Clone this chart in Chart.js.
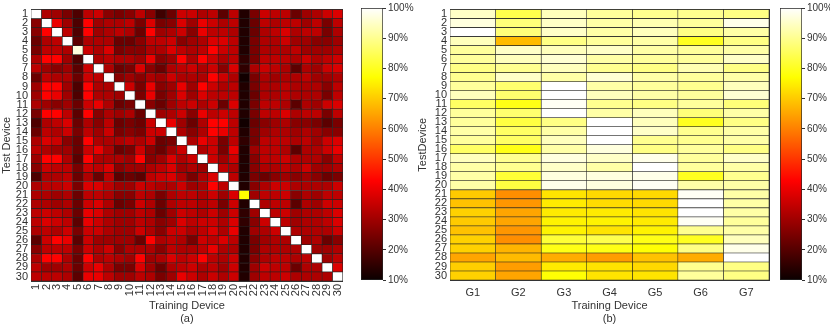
<!DOCTYPE html>
<html>
<head>
<meta charset="utf-8">
<script src="https://cdn.jsdelivr.net/npm/chart.js@4.4.0/dist/chart.umd.min.js"></script>
<style>
  body { margin: 0; background: #fff; overflow: hidden; }
  #wrap { position: relative; width: 830px; height: 327px; }
  canvas { position: absolute; top: 0; }
</style>
</head>
<body>
<div id="wrap">
  <canvas id="heatA" width="354" height="327" style="left:0px"></canvas>
  <canvas id="barA" width="60" height="327" style="left:355px"></canvas>
  <canvas id="heatB" width="359" height="327" style="left:415px"></canvas>
  <canvas id="barB" width="56" height="327" style="left:774px"></canvas>
</div>
<script>
// panel (a): training device (columns) vs test device (rows), accuracy in %
const trainA = ['1','2','3','4','5','6','7','8','9','10','11','12','13','14','15',
  '16','17','18','19','20','21','22','23','24','25','26','27','28','29','30'];
const testA = ['1','2','3','4','5','6','7','8','9','10','11','12','13','14','15',
  '16','17','18','19','20','21','22','23','24','25','26','27','28','29','30'];
const accA = [
  [100,32,30,25,19,34,36,27,25,27,34,27,17,23,36,36,32,34,21,34,13,25,36,34,34,23,30,32,36,38],
  [27,100,40,30,19,43,30,32,32,34,25,38,25,27,38,30,40,36,32,34,13,23,34,32,34,34,30,34,25,34],
  [27,43,100,34,19,43,30,32,34,32,23,43,30,32,36,27,40,34,34,32,13,23,32,34,38,32,34,34,25,32],
  [23,32,34,100,21,32,32,32,23,23,27,34,34,36,27,30,32,38,38,34,13,25,32,32,36,30,30,27,27,30],
  [25,34,34,32,97,36,32,38,25,27,27,32,32,38,34,32,34,43,36,34,13,25,32,32,32,34,30,30,30,32],
  [32,43,43,30,19,100,32,34,32,32,30,40,27,30,43,32,43,36,32,34,15,25,34,34,34,32,36,32,34,36],
  [34,30,27,30,21,36,100,32,23,25,38,27,23,32,34,36,32,36,27,38,15,32,36,34,32,21,32,30,36,38],
  [23,34,32,32,23,36,34,100,27,30,27,32,30,36,32,32,32,43,36,32,11,25,32,30,32,32,34,30,30,32],
  [30,43,43,30,19,43,32,32,100,36,25,40,27,30,40,30,43,36,32,34,13,25,32,32,34,32,32,32,27,34],
  [30,43,40,30,19,43,32,32,30,100,25,40,25,30,38,30,38,34,34,34,13,23,32,32,34,32,32,32,25,34],
  [32,30,27,30,23,36,40,32,23,25,100,27,23,30,34,36,32,36,23,38,13,25,34,34,32,21,32,30,36,38],
  [25,43,43,34,21,43,27,32,30,32,23,100,30,32,36,27,40,34,36,34,13,25,34,34,38,32,34,34,25,34],
  [19,32,34,38,23,32,27,34,23,25,23,36,100,40,30,23,32,43,43,34,11,23,27,30,32,27,27,25,21,25],
  [23,34,32,36,25,34,30,36,25,27,25,36,36,100,32,27,32,43,40,34,13,25,30,32,32,30,32,30,27,27],
  [32,38,36,27,23,43,32,32,32,34,32,36,23,25,100,32,40,36,25,34,15,25,34,34,34,32,34,30,36,38],
  [34,32,30,30,23,36,40,32,23,25,36,27,23,30,36,100,32,36,25,40,13,30,34,34,32,21,32,32,36,40],
  [30,43,43,32,21,43,32,32,32,30,43,27,30,38,32,36,100,36,30,36,13,27,34,34,36,32,32,32,27,34],
  [27,36,34,34,25,36,34,38,27,30,30,32,34,38,30,32,30,100,34,32,13,27,32,32,34,32,36,30,30,32],
  [19,32,32,34,23,32,23,34,21,23,21,34,36,38,32,25,32,38,100,34,13,25,23,27,30,27,30,27,23,25],
  [32,34,34,36,25,38,38,34,30,30,36,34,32,32,36,30,32,43,34,100,13,27,32,36,36,32,32,32,32,36],
  [32,32,30,32,23,34,34,32,27,27,34,32,25,32,34,34,32,36,30,38,77,30,34,34,36,27,32,30,34,34],
  [32,32,30,32,23,36,38,32,23,25,36,32,23,32,34,34,32,34,25,36,13,100,32,34,34,21,32,30,36,36],
  [34,36,34,32,23,40,38,32,30,30,34,32,23,30,36,34,32,36,30,36,15,30,100,34,36,30,32,32,34,38],
  [34,38,36,34,21,40,36,32,30,30,34,32,27,30,38,34,36,36,32,38,15,27,36,100,34,30,32,32,34,38],
  [32,34,32,36,25,36,36,32,30,30,36,32,27,36,36,32,34,38,32,40,13,30,32,36,100,32,32,32,32,36],
  [21,36,43,40,21,36,30,30,30,30,23,43,32,34,32,25,36,34,38,34,13,25,30,32,32,100,30,32,23,27],
  [27,34,34,34,25,36,32,36,27,32,32,32,27,34,32,32,34,40,32,32,13,25,32,32,32,32,100,30,30,32],
  [32,43,43,32,23,43,32,34,32,30,43,30,32,38,34,36,43,34,32,36,13,27,32,34,34,32,34,100,30,34],
  [34,30,30,32,23,36,40,32,25,25,38,30,23,32,34,36,32,34,30,36,13,30,36,34,34,23,32,32,100,38],
  [34,34,34,32,21,40,40,34,30,30,34,32,25,30,40,36,32,36,32,36,13,30,34,34,36,32,32,32,32,100]
];

// panel (b): device groups G1..G7 vs test device
const trainB = ['G1','G2','G3','G4','G5','G6','G7'];
const testB = ['1','2','3','4','5','6','7','8','9','10','11','12','13','14','15',
  '16','17','18','19','20','21','22','23','24','25','26','27','28','29','30'];
const accB = [
  [95,84,94,91,90,90,89],
  [97,88,95,92,93,91,98],
  [100,88,95,92,94,89,92],
  [94,68,89,91,92,80,89],
  [91,95,94,95,92,91,92],
  [91,94,96,92,91,91,95],
  [89,90,94,90,89,93,89],
  [90,95,92,96,92,91,92],
  [91,87,100,92,91,90,94],
  [94,87,100,94,92,91,96],
  [86,79,99,90,89,91,88],
  [91,87,100,92,94,88,92],
  [91,83,89,100,94,80,89],
  [92,86,92,100,95,90,92],
  [91,86,94,100,90,90,92],
  [86,79,92,97,89,91,89],
  [94,90,97,95,98,91,95],
  [92,90,95,92,100,91,92],
  [92,82,97,97,98,80,90],
  [92,83,98,97,99,92,92],
  [70,62,73.5,72,72,99,92],
  [69,63,74.5,72.5,72,100,92],
  [71,65,74.5,74.5,73.5,100,92],
  [70,65,75.5,75.5,74.5,99,91],
  [69,63,75.5,73.5,75.5,90,92],
  [71,62,82,84,79,80,94],
  [71,67,79,79,77.5,89,98],
  [65,68,66,64,69,66,100],
  [70.5,64,74.5,73.5,72,90,89],
  [71,65,77.5,73.5,73.5,91,89]
];

// colorbar ticks (%)
const barTicks = [10, 20, 30, 40, 50, 60, 70, 80, 90, 100];

Chart.defaults.font.family = "'Liberation Sans', Arial, sans-serif";
Chart.defaults.color = '#333';

// matlab "hot" colormap, 10% -> black, 100% -> white
function hot(p) {
  const lo = barTicks[0], hi = barTicks[barTicks.length - 1];
  const i = (Math.min(Math.max(p, lo), hi) - lo) / (hi - lo) * 63 + 1;
  const c = v => Math.round(255 * Math.min(1, Math.max(0, v)));
  return `rgb(${c(i / 24)},${c((i - 24) / 24)},${c((i - 48) / 16)})`;
}

// frame-only axes for the top and right edges of a heatmap
const frameAxis = (pos) => ({
  position: pos,
  afterFit: ax => { if (pos === 'top') ax.height = 0; else ax.width = 0; },
  ticks: { display: false },
  grid: { display: false, drawTicks: false },
  border: { display: true, color: '#333', width: 1 }
});

function heatmap(id, xLabels, yLabels, acc, o) {
  const datasets = xLabels.map((lab, j) => ({
    label: lab,
    data: yLabels.map(() => [j, j + 1]),
    backgroundColor: yLabels.map((_, i) => hot(acc[i][j])),
    borderColor: '#222',
    borderWidth: 0.6,
    borderSkipped: false,
    barPercentage: 1,
    categoryPercentage: 1,
    grouped: false
  }));

  return new Chart(document.getElementById(id), {
    type: 'bar',
    data: { labels: yLabels, datasets: datasets },
    options: {
      indexAxis: 'y',
      responsive: false,
      animation: false,
      layout: { padding: { left: 0, right: o.padRight, top: 3, bottom: 0 } },
      plugins: { legend: { display: false }, tooltip: { enabled: false } },
      scales: {
        x: {
          type: 'linear',
          min: 0,
          max: xLabels.length,
          afterBuildTicks: ax => { ax.ticks = xLabels.map((_, j) => ({ value: j + 0.5 })); },
          afterFit: ax => { ax.height = o.xHeight; },
          ticks: {
            autoSkip: false,
            minRotation: o.rot,
            maxRotation: o.rot,
            padding: o.xPad,
            font: { size: 11 },
            callback: (v, i) => xLabels[i]
          },
          grid: { display: false, drawTicks: false },
          border: { display: true, color: '#333', width: 1 },
          title: {
            display: true,
            text: ['Training Device', o.tag],
            font: { size: 11, lineHeight: 1.15 },
            padding: { top: 0, bottom: 2 }
          }
        },
        y: {
          type: 'category',
          afterFit: ax => { ax.width = o.yWidth; },
          ticks: { autoSkip: false, padding: 3, font: { size: 11 } },
          grid: { display: false, drawTicks: false },
          border: { display: true, color: '#333', width: 1 },
          title: {
            display: true,
            text: o.yTitle,
            font: { size: 11 },
            padding: { top: o.yTitlePad, bottom: 0 }
          }
        },
        xTop: Object.assign({ type: 'linear', axis: 'x' }, frameAxis('top')),
        yRight: Object.assign({ type: 'linear', axis: 'y' }, frameAxis('right'))
      }
    }
  });
}

function colorBar(id, axisWidth) {
  const lo = barTicks[0], hi = barTicks[barTicks.length - 1];
  return new Chart(document.getElementById(id), {
    type: 'bar',
    data: {
      labels: [''],
      datasets: [{
        data: [[lo, hi]],
        backgroundColor: ctx => {
          const chart = ctx.chart;
          if (!chart.chartArea) return '#000';
          const y = chart.scales.y;
          const g = chart.ctx.createLinearGradient(0, y.getPixelForValue(lo), 0, y.getPixelForValue(hi));
          for (let p = lo; p <= hi; p++) g.addColorStop((p - lo) / (hi - lo), hot(p));
          return g;
        },
        borderColor: '#262626',
        borderWidth: 1,
        borderSkipped: false,
        barPercentage: 1,
        categoryPercentage: 1
      }]
    },
    options: {
      responsive: false,
      animation: false,
      layout: { padding: { left: 6, right: 0, top: 3, bottom: 47 } },
      plugins: { legend: { display: false }, tooltip: { enabled: false } },
      scales: {
        x: { display: false },
        y: {
          position: 'right',
          min: lo,
          max: hi,
          afterBuildTicks: ax => { ax.ticks = barTicks.map(v => ({ value: v })); },
          afterFit: ax => { ax.width = axisWidth; },
          ticks: { callback: v => v + '%', font: { size: 10 }, padding: 2 },
          grid: { drawOnChartArea: false, tickLength: 3, color: '#333' },
          border: { display: false }
        }
      }
    }
  });
}

heatmap('heatA', trainA, testA, accA,
  { padRight: 4, xHeight: 46, yWidth: 31, rot: 90, xPad: 3, tag: '(a)', yTitle: 'Test Device', yTitlePad: 0 });
colorBar('barA', 32);
heatmap('heatB', trainB, testB, accB,
  { padRight: 5, xHeight: 47, yWidth: 35, rot: 0, xPad: 6, tag: '(b)', yTitle: 'TestDevice', yTitlePad: 1 });
colorBar('barB', 28);
</script>
</body>
</html>
